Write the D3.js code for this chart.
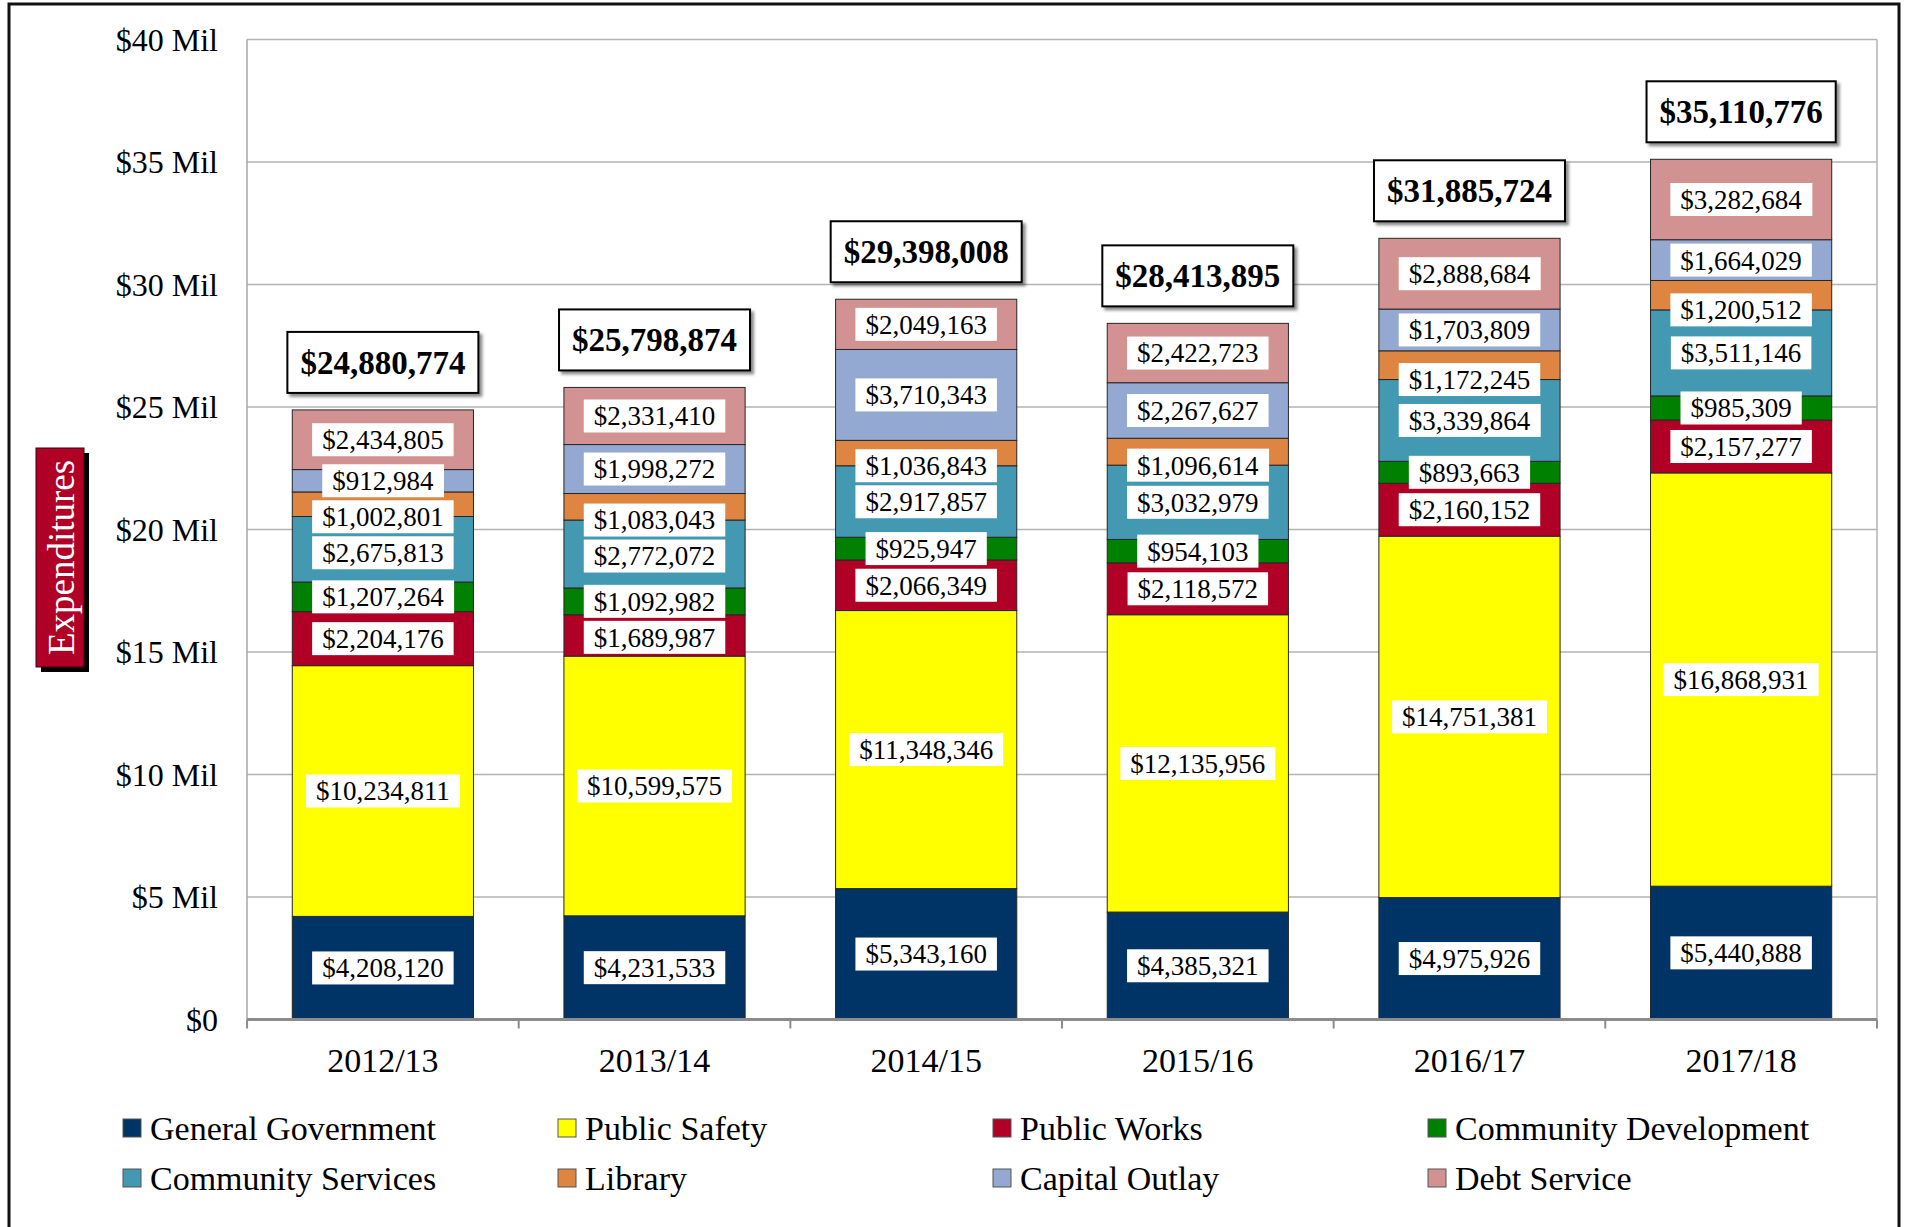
<!DOCTYPE html>
<html>
<head>
<meta charset="utf-8">
<script src="https://cdn.jsdelivr.net/npm/d3@7"></script>
<style>
  html, body { margin:0; padding:0; background:#fff; }
  svg { display:block; font-family:"Liberation Serif","DejaVu Serif",serif; }
</style>
</head>
<body>
<svg id="chart" width="1911" height="1227"></svg>
<script>
/* Gastos por año fiscal, barras apiladas por departamento */

const years = ["2012/13","2013/14","2014/15","2015/16","2016/17","2017/18"];

const seriesNames = ["General Government","Public Safety","Public Works","Community Development",
                     "Community Services","Library","Capital Outlay","Debt Service"];
const seriesColors = ["#003366","#ffff00","#b10026","#008000","#4398b2","#de8541","#94a9d2","#d39292"];

const generalGovernment    = [4208120, 4231533, 5343160, 4385321, 4975926, 5440888];
const publicSafety         = [10234811, 10599575, 11348346, 12135956, 14751381, 16868931];
const publicWorks          = [2204176, 1689987, 2066349, 2118572, 2160152, 2157277];
const communityDevelopment = [1207264, 1092982, 925947, 954103, 893663, 985309];
const communityServices    = [2675813, 2772072, 2917857, 3032979, 3339864, 3511146];
const library              = [1002801, 1083043, 1036843, 1096614, 1172245, 1200512];
const capitalOutlay        = [912984, 1998272, 3710343, 2267627, 1703809, 1664029];
const debtService          = [2434805, 2331410, 2049163, 2422723, 2888684, 3282684];

const yTicks = [0, 5e6, 10e6, 15e6, 20e6, 25e6, 30e6, 35e6, 40e6];

const seriesValues = [generalGovernment, publicSafety, publicWorks, communityDevelopment,
                      communityServices, library, capitalOutlay, debtService];

const rows = years.map((yr, i) => {
  const r = { year: yr };
  seriesNames.forEach((n, k) => r[n] = seriesValues[k][i]);
  return r;
});

const svg = d3.select("#chart");
const plotL = 247, plotR = 1877, plotT = 39.5, plotB = 1019.5;

const x = d3.scaleBand().domain(years).range([plotL, plotR])
  .paddingInner(0.333).paddingOuter(0.1667);
const y = d3.scaleLinear().domain([0, 40e6]).range([plotB, plotT]);

const money = d3.format("$,.0f");

const defs = svg.append("defs");
const f = defs.append("filter").attr("id","shadow")
  .attr("x","-20%").attr("y","-20%").attr("width","140%").attr("height","160%");
f.append("feDropShadow").attr("dx",3).attr("dy",3).attr("stdDeviation",1.5)
  .attr("flood-color","#000").attr("flood-opacity",0.45);

// marco exterior
svg.append("rect").attr("x",9).attr("y",4).attr("width",1890).attr("height",1300)
  .attr("fill","none").attr("stroke","#111").attr("stroke-width",3);

// rejilla
svg.append("g").selectAll("line").data(yTicks.filter(d => d > 0)).enter().append("line")
  .attr("x1", plotL).attr("x2", plotR)
  .attr("y1", d => y(d)).attr("y2", d => y(d))
  .attr("stroke","#b3b3b3").attr("stroke-width",1.5);
svg.append("line").attr("x1",plotR).attr("x2",plotR).attr("y1",plotT).attr("y2",plotB)
  .attr("stroke","#b3b3b3").attr("stroke-width",1.5);
svg.append("line").attr("x1",plotL).attr("x2",plotL).attr("y1",plotT).attr("y2",plotB)
  .attr("stroke","#a6a6a6").attr("stroke-width",1.5);

// etiquetas eje Y
svg.append("g").selectAll("text").data(yTicks).enter().append("text")
  .attr("x", 218).attr("y", d => y(d)).attr("dy","0.35em")
  .attr("text-anchor","end").attr("font-size",32).attr("fill","#000")
  .text(d => d === 0 ? "$0" : "$" + (d/1e6) + " Mil");

// barras apiladas
const stack = d3.stack().keys(seriesNames)(rows);

const layers = svg.append("g").selectAll("g").data(stack).enter().append("g")
  .attr("fill", (d, i) => seriesColors[i]);

layers.selectAll("rect").data(d => d).enter().append("rect")
  .attr("x", d => x(d.data.year))
  .attr("width", x.bandwidth())
  .attr("y", d => y(d[1]))
  .attr("height", d => y(d[0]) - y(d[1]))
  .attr("stroke","#262626").attr("stroke-width",1);

// eje X
svg.append("line").attr("x1",plotL).attr("x2",plotR).attr("y1",plotB).attr("y2",plotB)
  .attr("stroke","#8c8c8c").attr("stroke-width",3);
const bounds = years.map(d => x(d) - x.step()*x.paddingInner()/2).concat([plotR]);
svg.append("g").selectAll("line").data(bounds).enter().append("line")
  .attr("x1", d => d).attr("x2", d => d).attr("y1", plotB).attr("y2", plotB + 9)
  .attr("stroke","#8c8c8c").attr("stroke-width",2);

svg.append("g").selectAll("text").data(years).enter().append("text")
  .attr("x", d => x(d) + x.bandwidth()/2).attr("y", 1060).attr("dy","0.35em")
  .attr("text-anchor","middle").attr("font-size",34).attr("fill","#000")
  .text(d => d);

// etiquetas de segmento: Library va sobre su base, el resto al centro
const labelH = 33, minGap = 36;
const segLabels = [];
years.forEach((yr, i) => {
  const list = stack.map((s, k) => {
    const seg = s[i];
    const anchor = seriesNames[k] === "Library" ? seg[0] : (seg[0] + seg[1]) / 2;
    return { year: yr, value: seg[1] - seg[0], cy: y(anchor) };
  }).reverse();
  for (let j = 1; j < list.length; j++) {
    if (list[j].cy - list[j-1].cy < minGap) list[j].cy = list[j-1].cy + minGap;
  }
  segLabels.push(...list);
});

const lg = svg.append("g").selectAll("g").data(segLabels).enter().append("g");
lg.append("text")
  .attr("x", d => x(d.year) + x.bandwidth()/2).attr("y", d => d.cy).attr("dy","0.35em")
  .attr("text-anchor","middle").attr("font-size",27).attr("fill","#000")
  .text(d => money(d.value));
lg.each(function(d){
  const g = d3.select(this);
  const bb = g.select("text").node().getBBox();
  g.insert("rect","text")
    .attr("x", bb.x - 10).attr("y", d.cy - labelH/2)
    .attr("width", bb.width + 20).attr("height", labelH)
    .attr("fill","#fff");
});

// totales
const totals = years.map((yr, i) => ({ year: yr, total: d3.sum(seriesValues, s => s[i]) }));
const tg = svg.append("g").selectAll("g").data(totals).enter().append("g");
tg.append("text")
  .attr("x", d => x(d.year) + x.bandwidth()/2)
  .attr("y", d => y(d.total) - 17 - 30.5).attr("dy","0.35em")
  .attr("text-anchor","middle").attr("font-size",33).attr("font-weight","bold").attr("fill","#000")
  .text(d => money(d.total));
tg.each(function(d){
  const g = d3.select(this);
  const bb = g.select("text").node().getBBox();
  g.insert("rect","text")
    .attr("x", bb.x - 13).attr("y", y(d.total) - 17 - 61)
    .attr("width", bb.width + 26).attr("height", 61)
    .attr("fill","#fff").attr("stroke","#000").attr("stroke-width",2)
    .attr("filter","url(#shadow)");
});

// titulo eje Y
svg.append("rect").attr("x",41).attr("y",453).attr("width",48).attr("height",219).attr("fill","#000");
svg.append("rect").attr("x",36).attr("y",448).attr("width",48).attr("height",219)
  .attr("fill","#b10026").attr("stroke","#3a0010").attr("stroke-width",1);
svg.append("text")
  .attr("transform","translate(61,557.5) rotate(-90)")
  .attr("text-anchor","middle").attr("dy","0.35em")
  .attr("font-size",37).attr("fill","#fff")
  .text("Expenditures");

// leyenda
const legend = svg.append("g").selectAll("g").data(seriesNames).enter().append("g")
  .attr("transform", (d, i) => `translate(${123 + (i % 4) * 435},${i < 4 ? 1128 : 1178})`);
legend.append("rect").attr("x",0).attr("y",-9).attr("width",18).attr("height",18)
  .attr("fill", (d, i) => seriesColors[i]).attr("stroke","#555").attr("stroke-width",1);
legend.append("text").attr("x",27).attr("y",0).attr("dy","0.35em")
  .attr("font-size",34).attr("fill","#000").text(d => d);
</script>
</body>
</html>
